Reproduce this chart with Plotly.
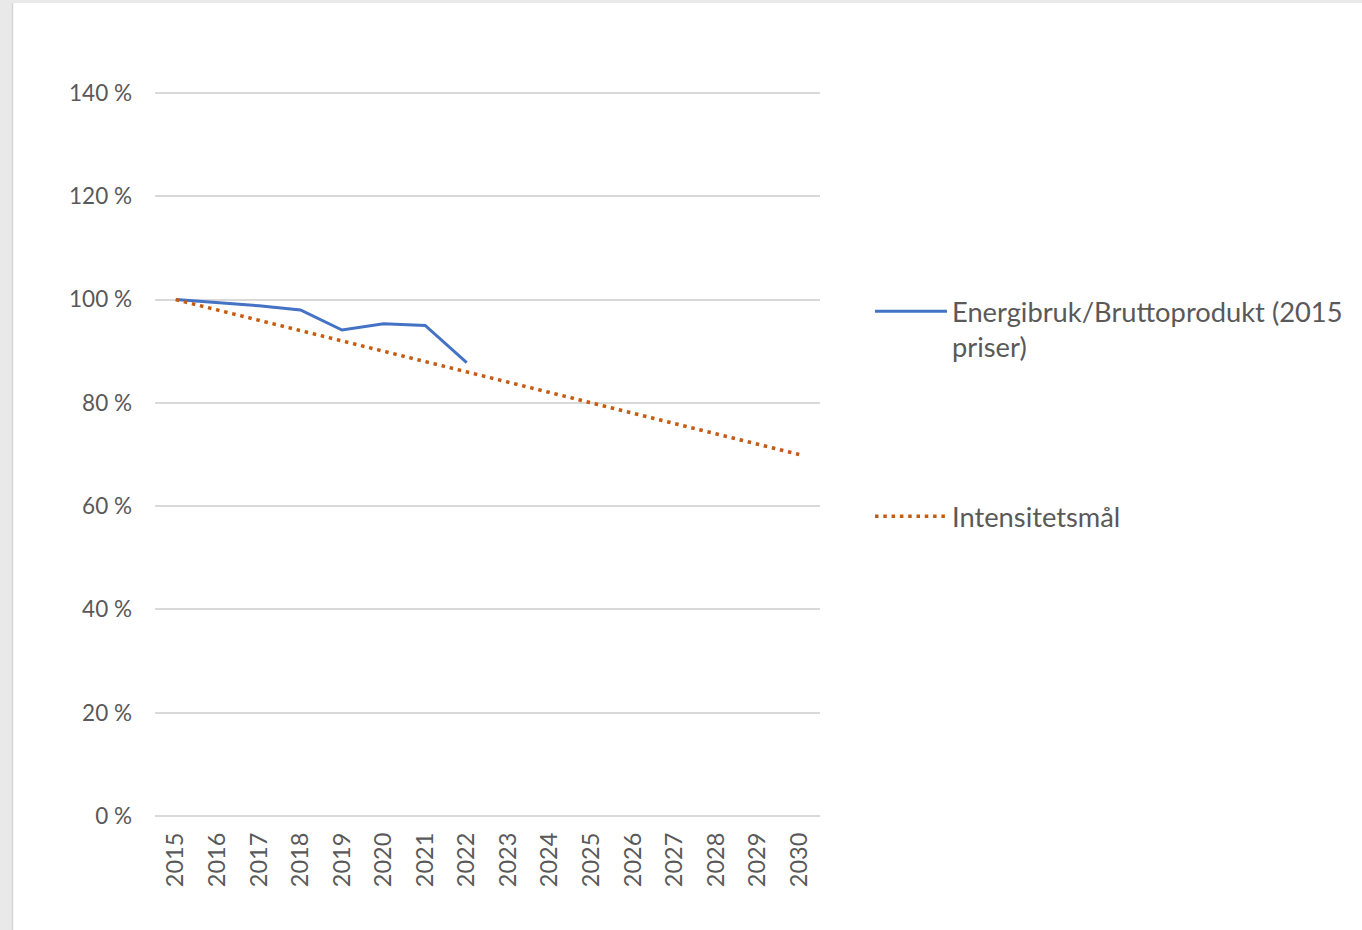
import plotly.graph_objects as go

years = [str(y) for y in range(2015, 2031)]
energi_years = years[:8]
energi_values = [100.0, 99.4, 98.8, 98.0, 94.1, 95.3, 95.0, 87.8]
maal_values = [100, 98, 96, 94, 92, 90, 88, 86, 84, 82, 80, 78, 76, 74, 72, 70]
y_ticks = [0, 20, 40, 60, 80, 100, 120, 140]

FONT = "Lato"
GRAY = "#595959"

fig = go.Figure()
fig.add_trace(go.Scatter(
    x=energi_years, y=energi_values, mode="lines",
    name="Energibruk/Bruttoprodukt (2015<br>priser)",
    line=dict(color="#4472C4", width=3),
    legend="legend",
))
fig.add_trace(go.Scatter(
    x=years, y=maal_values, mode="lines",
    name="Intensitetsmål",
    line=dict(color="#C55A11", width=3.5, dash="3.5px,4.8px"),
    legend="legend2",
))

L, R, T, B = 155, 1362 - 820, 92, 930 - 816
PW, PH = 1362 - L - R, 930 - T - B

def px(x):
    return (x - L) / PW

def py(y):
    return (930 - B - y) / PH

fig.add_shape(type="rect", xref="paper", yref="paper",
              x0=px(13), x1=px(1400), y0=py(3), y1=py(1000),
              fillcolor="white", line=dict(width=0), layer="below")
fig.add_shape(type="line", xref="paper", yref="paper",
              x0=px(12.5), x1=px(12.5), y0=py(3), y1=py(1000),
              line=dict(color="#d6d6d6", width=1.5), layer="below")

fig.update_layout(
    width=1362, height=930,
    margin=dict(l=L, r=R, t=T, b=B),
    paper_bgcolor="#e8e9e8",
    plot_bgcolor="rgba(0,0,0,0)",
    font=dict(family=FONT, color=GRAY),
    legend=dict(x=px(870), y=py(287), xanchor="left", yanchor="top",
                font=dict(size=27.3, color=GRAY), valign="top",
                itemwidth=72, bgcolor="rgba(0,0,0,0)"),
    legend2=dict(x=px(870), y=py(492), xanchor="left", yanchor="top",
                 font=dict(size=27.3, color=GRAY), valign="top",
                 itemwidth=72, bgcolor="rgba(0,0,0,0)"),
    showlegend=True,
)
fig.update_xaxes(
    type="category", categoryorder="array", categoryarray=years,
    tickangle=-90, tickfont=dict(size=23.5, color=GRAY),
    showgrid=False, showline=False, ticks="", ticklabelstandoff=11,
    range=[-0.5, len(years) - 0.5],
)
fig.update_yaxes(
    range=[0, 140.2], tickvals=y_ticks, ticktext=[f"{v} %" for v in y_ticks],
    tickfont=dict(size=22.5, color=GRAY),
    showgrid=True, gridcolor="#d9d9d9", gridwidth=1.5,
    zeroline=True, zerolinecolor="#d9d9d9", zerolinewidth=1.5,
    showline=False, ticks="", ticklabelstandoff=22,
)

fig.write_html("out.html", config={"displayModeBar": False},
               post_script="document.body.style.margin='0';document.body.style.overflow='hidden';")
